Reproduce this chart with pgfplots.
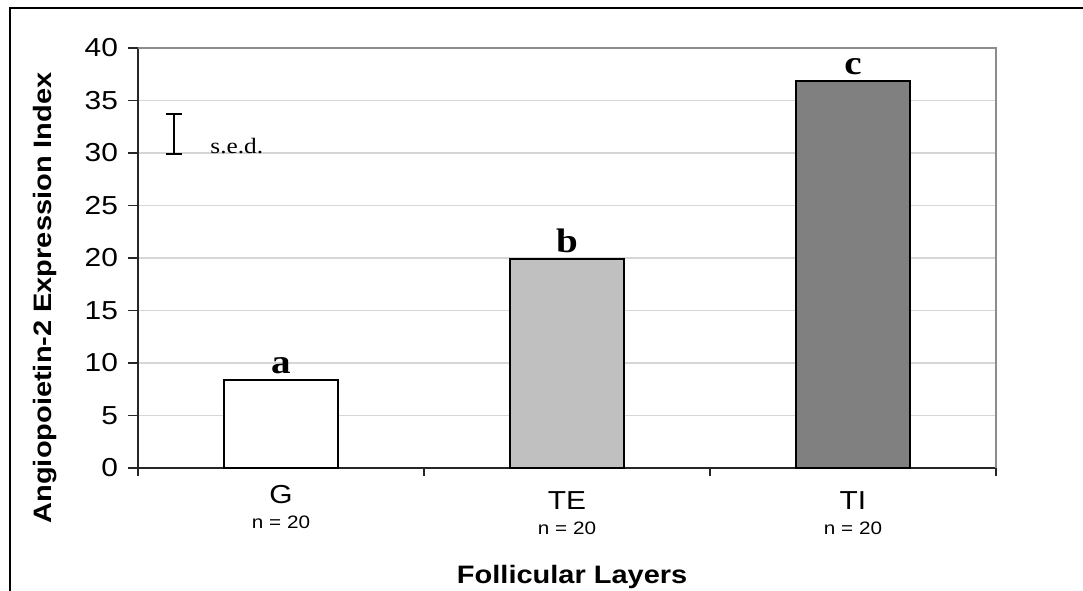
\documentclass[border=0pt]{standalone}
\usepackage{fontspec}
\setmainfont{Liberation Sans}[FakeStretch=1.15]
\newfontfamily\timesfont{Liberation Serif}[FakeStretch=1.15]
\usepackage{pgfplots}
\pgfplotsset{compat=1.18}
\definecolor{barlight}{HTML}{C0C0C0}
\definecolor{bardark}{HTML}{808080}
\definecolor{gridc}{HTML}{D6D6D6}
\definecolor{framec}{HTML}{8C8C8C}
\newcommand{\nlab}{\fontsize{9}{10}\selectfont}

\begin{document}
\begin{tikzpicture}
\useasboundingbox (-69pt,-61pt) rectangle (472.5pt,234pt);
\draw[line width=1.4pt] (-64pt,-62pt) -- (-64pt,230pt) -- (473pt,230pt);
\begin{axis}[
  at={(0,0)}, anchor=south west,
  scale only axis, width=429pt, height=210pt,
  xmin=-0.5, xmax=2.5, ymin=0, ymax=40,
  ytick={0,5,...,40},
  xtick={0,1,2},
  xticklabels={{G\\[-1pt]{\nlab n = 20}},
               {\rule{0pt}{12pt}TE\\[-1pt]{\nlab n = 20}},
               {\rule{0pt}{12pt}TI\\[-1pt]{\nlab n = 20}}},
  minor xtick={-0.5,0.5,1.5,2.5},
  axis lines=left, axis line style={-, line width=0.7pt, black!85},
  tick align=outside, major tick length=5pt, minor tick length=4pt,
  tick style={line width=0.7pt, black!85},
  major x tick style={draw=none},
  ymajorgrids, grid style={gridc, line width=0.6pt},
  tick label style={font=\fontsize{13}{13.5}\selectfont},
  xticklabel style={align=center},
  yticklabel style={xshift=-1.5pt},
  /pgf/number format/assume math mode=true,
  xlabel={Follicular Layers},
  ylabel={Angiopoietin-2 Expression Index},
  every axis x label/.style={at={(axis description cs:0.506,-0.274)}, anchor=base,
    font=\bfseries\fontsize{12.6}{14}\selectfont},
  every axis y label/.style={at={(axis description cs:-0.1014,0.405)}, rotate=90, anchor=base,
    font=\bfseries\fontsize{12.6}{14}\selectfont},
  clip=false,
]
\draw[framec, line width=0.8pt] (rel axis cs:0,1) -- (rel axis cs:1,1) -- (rel axis cs:1,0);
\pgfplotsset{letters/.style={nodes near coords, point meta=explicit symbolic,
  every node near coord/.style={font=\timesfont\bfseries\fontsize{17}{18}\selectfont, black, anchor=south, inner sep=2.5pt}}}
\addplot[ybar, bar width=57pt, bar shift=0pt, fill=white, draw=black, line width=1pt, letters]
  coordinates {(0,8.4) [a]};
\addplot[ybar, bar width=57pt, bar shift=0pt, fill=barlight, draw=black, line width=1pt, letters]
  coordinates {(1,19.9) [b]};
\addplot[ybar, bar width=57pt, bar shift=0pt, fill=bardark, draw=black, line width=1pt, letters]
  coordinates {(2,36.9) [c]};
% s.e.d. bar
\addplot[sharp plot, black, mark=none,
  error bars/.cd, y dir=both, y explicit, error mark=|,
  error bar style={line width=0.8pt},
  error mark options={line width=0.8pt, mark size=4pt}]
  coordinates {(-0.374,31.8) +- (0,1.9)};
\node[anchor=base west, inner sep=0pt, font=\timesfont\fontsize{11}{12}\selectfont]
  at (axis cs:-0.248,30) {s.e.d.};
\end{axis}
\end{tikzpicture}
\end{document}
